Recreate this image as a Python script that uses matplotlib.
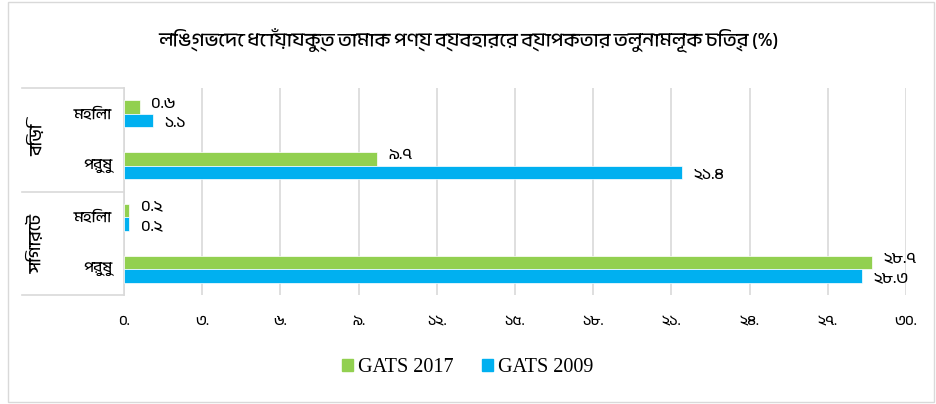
import matplotlib
matplotlib.use("Agg")
import matplotlib.pyplot as plt
from matplotlib import font_manager
from matplotlib.patches import Rectangle
from matplotlib.lines import Line2D
import numpy as np

#%% data
title = "লিঙ্গভেদে ধোঁয়াযুক্ত তামাক পণ্য ব্যবহারের ব্যাপকতার তুলনামূলক চিত্র (%)"
groups = ["বিড়ি", "সিগারেট"]
sexes = ["মহিলা", "পুরুষ"]
gats_2017 = [0.6, 9.7, 0.2, 28.7]
gats_2009 = [1.1, 21.4, 0.2, 28.3]
labels_2017 = ["০.৬", "৯.৭", "০.২", "২৮.৭"]
labels_2009 = ["১.১", "২১.৪", "০.২", "২৮.৩"]
xticks = [0, 3, 6, 9, 12, 15, 18, 21, 24, 27, 30]
xtick_labels = ["০.", "৩.", "৬.", "৯.", "১২.", "১৫.", "১৮.", "২১.", "২৪.", "২৭.", "৩০."]
series_names = ["GATS 2017", "GATS 2009"]

#%% font: use a Bengali font if one is around
bn = None
for f in font_manager.fontManager.ttflist:
    if any(k in f.name for k in ("Bengali", "Bangla", "Lohit", "Vrinda", "Kalpurush", "SolaimanLipi")):
        bn = f.name
        break
fams = ([bn] if bn else []) + ["Noto Sans", "DejaVu Sans"]
plt.rcParams['font.family'] = fams

green = "#92D050"
blue = "#00B0F0"
grid_c = "#D9D9D9"

fig = plt.figure(figsize=(9.36, 4.04), dpi=100)
ax = fig.add_axes([124/936, 1-295/404, 782/936, 207/404])

y = np.arange(len(gats_2017))
h = 0.26
ax.barh(y - h/2, gats_2017, height=h, color=green, edgecolor="white", linewidth=0.5, zorder=3)
ax.barh(y + h/2, gats_2009, height=h, color=blue, edgecolor="white", linewidth=0.5, zorder=3)

for yi, v, s in zip(y, gats_2017, labels_2017):
    ax.text(v + 0.45, yi - h/2 - 0.07, s, va="center", ha="left", fontsize=11.5)
for yi, v, s in zip(y, gats_2009, labels_2009):
    ax.text(v + 0.45, yi + h/2 + 0.05, s, va="center", ha="left", fontsize=11.5)

ax.set_xlim(0, 30)
ax.set_ylim(3.5, -0.5)
ax.set_xticks(xticks)
ax.set_xticklabels(xtick_labels, fontsize=10.5)
ax.tick_params(axis="x", length=0, pad=15)
ax.set_yticks([])
ax.grid(axis="x", color=grid_c, linewidth=1.2, zorder=0)
for sp in ["top", "right", "bottom"]:
    ax.spines[sp].set_visible(False)
ax.spines["left"].set_color(grid_c)
ax.spines["left"].set_linewidth(1.2)

# two-level category axis
for i, s in enumerate(sexes * len(groups)):
    ax.text(-0.45, i, s, ha="right", va="center", fontsize=11)
for k, g in enumerate(groups):
    ax.text(-3.35, 2*k + 0.5, g, ha="center", va="center", rotation=90, fontsize=12.5)
for yb in [-0.5, 1.5, 3.5]:
    ax.add_line(Line2D([-3.9, 0], [yb, yb], color=grid_c, linewidth=1.2, clip_on=False))

fig.text(0.5, 1-40/404, title, ha="center", va="center", fontsize=14)

handles = [Rectangle((0, 0), 1, 1, color=green), Rectangle((0, 0), 1, 1, color=blue)]
leg = fig.legend(handles, series_names, loc="center", bbox_to_anchor=(0.5, 1-368/404),
                 ncol=2, frameon=False, handlelength=0.55, handleheight=0.55,
                 handletextpad=0.25, columnspacing=1.4,
                 prop={"family": "Liberation Serif", "size": 14.5})

fig.patches.append(Rectangle((8/936, 2/404), 926/936, 400/404, transform=fig.transFigure,
                             fill=False, edgecolor=grid_c, linewidth=1))

fig.savefig("out.png", dpi=100)
